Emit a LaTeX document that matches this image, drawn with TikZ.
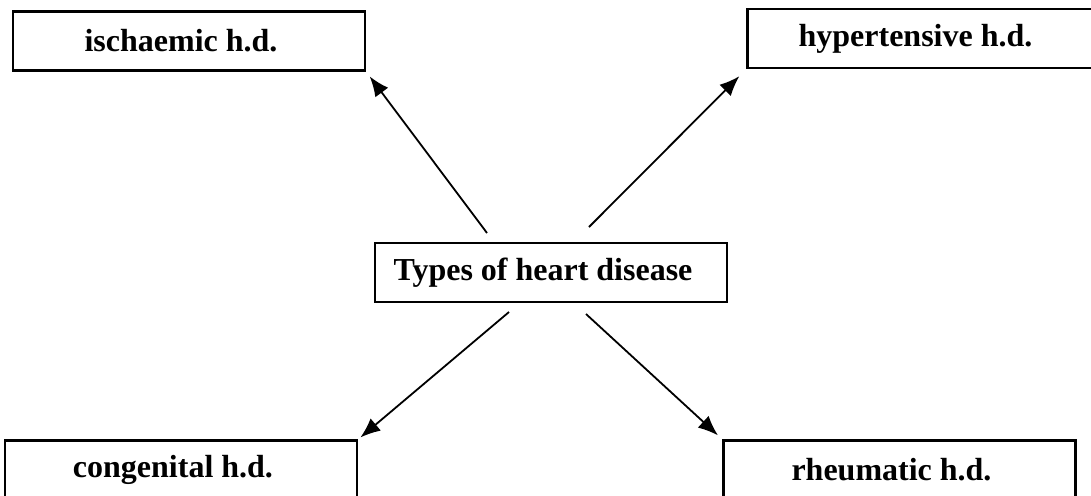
\documentclass[tikz,border=0pt]{standalone}
\usepackage{fontspec}
\setmainfont{Liberation Serif}
\usetikzlibrary{arrows.meta,positioning}
\begin{document}
\begin{tikzpicture}[x=.5pt,y=-.5pt,>={Latex[length=10pt,width=8pt]},
  b/.style={draw,line width=1.1pt,minimum width=176pt,minimum height=29.5pt,inner sep=0pt,font=\fontsize{16}{19}\selectfont\bfseries,
    execute at begin node=\hspace*{-8pt}},
  a/.style={->,line width=.9pt,shorten >=3pt}]
  \useasboundingbox (0,0) rectangle (1091,495);
  \node[b] (isch) at (189,41) {ischaemic h.d.};\node[b] (hyp) at (923.5,38.5) {hypertensive h.d.};
  \node[b] (types) at (551,272.5) {Types of heart disease};
  \node[b] (cong) at (181,470) {congenital h.d.};\node[b] (rheu) at (899.5,470) {rheumatic h.d.};
  \coordinate (s1) at (487,233);\coordinate (s2) at (589,227);\coordinate (s3) at (509,312);\coordinate (s4) at (586,314);
  \draw[a] (s1)--(isch.south east);\draw[a,shorten >=5pt] (s2)--(hyp.south west);
  \draw[a,shorten >=1.5pt] (s3)--(cong.north east);\draw[a] (s4)--(rheu.north west);
\end{tikzpicture}
\end{document}
